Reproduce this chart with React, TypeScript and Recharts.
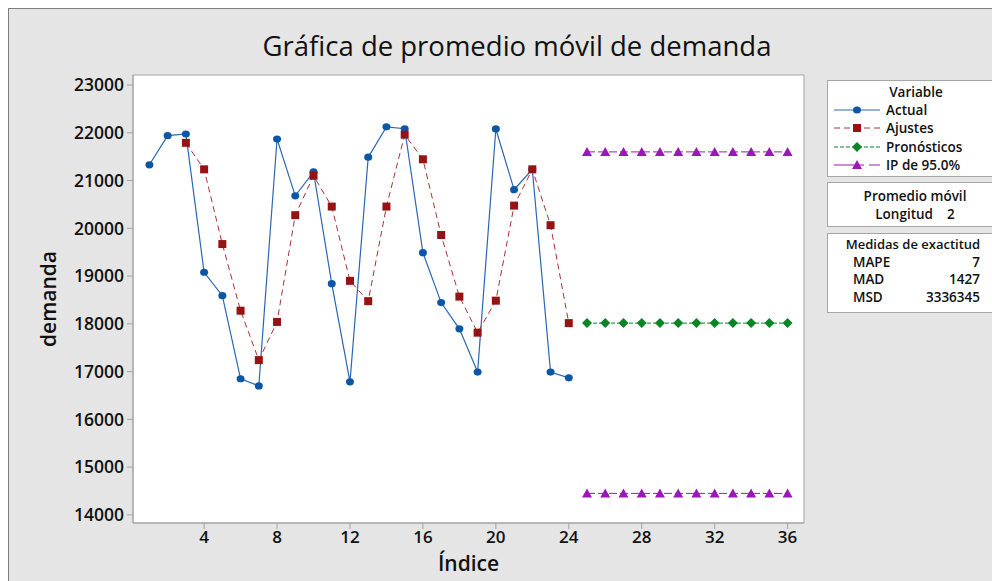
import { LineChart, Line, XAxis, YAxis, ReferenceArea, Label } from "recharts";

const indices = [1, 2, 3, 4, 5, 6, 7, 8, 9, 10, 11, 12, 13, 14, 15, 16, 17, 18, 19, 20, 21, 22, 23, 24, 25, 26, 27, 28, 29, 30, 31, 32, 33, 34, 35, 36];
const actual = [21330, 21940, 21975, 19080, 18590, 16850, 16700, 21870, 20680, 21180, 18840, 16785, 21490, 22125, 22085, 19490, 18445, 17895, 16990, 22080, 20810, 21235, 16990, 16870];
// ajustes start at index 3
const ajustes = [21790, 21235, 19670, 18275, 17240, 18040, 20275, 21100, 20455, 18900, 18475, 20455, 21960, 21445, 19860, 18570, 17815, 18485, 20475, 21235, 20065, 18015];
// pronosticos / intervals from index 25 to 36
const pronosticos = [18015, 18015, 18015, 18015, 18015, 18015, 18015, 18015, 18015, 18015, 18015, 18015];
const limSup = [21600, 21600, 21600, 21600, 21600, 21600, 21600, 21600, 21600, 21600, 21600, 21600];
const limInf = [14450, 14450, 14450, 14450, 14450, 14450, 14450, 14450, 14450, 14450, 14450, 14450];
const xTicks = [4, 8, 12, 16, 20, 24, 28, 32, 36];
const yTicks = [14000, 15000, 16000, 17000, 18000, 19000, 20000, 21000, 22000, 23000];

const data = indices.map((i) => ({
  idx: i,
  actual: i <= 24 ? actual[i - 1] : null,
  ajustes: i >= 3 && i <= 24 ? ajustes[i - 3] : null,
  pron: i >= 25 ? pronosticos[i - 25] : null,
  sup: i >= 25 ? limSup[i - 25] : null,
  inf: i >= 25 ? limInf[i - 25] : null,
}));

const BLUE = "#0b57a6";
const BLUE_LINE = "#2a67b5";
const RED = "#971313";
const RED_LINE = "#a83434";
const GREEN = "#0a8526";
const PURPLE = "#9b18b8";
const FONT = "'Open Sans', 'Noto Sans', sans-serif";

const Circle = (p: any) => (p.cy == null ? null : <ellipse key={p.key} cx={p.cx} cy={p.cy} rx={4} ry={3.6} fill={BLUE} />);
const Square = (p: any) => (p.cy == null ? null : <rect key={p.key} x={p.cx - 4} y={p.cy - 4} width={8} height={8} fill={RED} />);
const Diamond = (p: any) =>
  p.cy == null ? null : <polygon key={p.key} points={`${p.cx},${p.cy - 5} ${p.cx + 5},${p.cy} ${p.cx},${p.cy + 5} ${p.cx - 5},${p.cy}`} fill={GREEN} />;
const Tri = (p: any) =>
  p.cy == null ? null : <polygon key={p.key} points={`${p.cx},${p.cy - 5} ${p.cx + 5},${p.cy + 4} ${p.cx - 5},${p.cy + 4}`} fill={PURPLE} />;

function Sym({ kind }: { kind: string }) {
  const c = 23;
  let line = null;
  let mark = null;
  if (kind === "a") {
    line = <line x1={0} x2={46} y1={8} y2={8} stroke={BLUE_LINE} strokeWidth={1.2} />;
    mark = <ellipse cx={c} cy={8} rx={4} ry={3.6} fill={BLUE} />;
  } else if (kind === "r") {
    line = <line x1={0} x2={46} y1={8} y2={8} stroke={RED_LINE} strokeWidth={1} strokeDasharray="6 4" />;
    mark = <rect x={c - 4} y={4} width={8} height={8} fill={RED} />;
  } else if (kind === "g") {
    line = <line x1={0} x2={46} y1={8} y2={8} stroke={GREEN} strokeWidth={1} strokeDasharray="4 2" />;
    mark = <polygon points={`${c},3 ${c + 5},8 ${c},13 ${c - 5},8`} fill={GREEN} />;
  } else {
    line = <line x1={0} x2={46} y1={8} y2={8} stroke={PURPLE} strokeWidth={1} strokeDasharray="30 5" />;
    mark = <polygon points={`${c},3 ${c + 5},12 ${c - 5},12`} fill={PURPLE} />;
  }
  return (
    <svg width={46} height={16} style={{ position: "absolute", left: 6, top: 1 }}>
      {line}
      {mark}
    </svg>
  );
}

const boxStyle: any = {
  position: "absolute",
  left: 819,
  width: 176,
  background: "#fff",
  border: "1px solid #a6a6a6",
  boxSizing: "border-box",
  fontFamily: FONT,
  fontWeight: 600,
  fontSize: 13.5,
  color: "#111",
};

const legendRows = [
  { k: "a", t: "Actual" },
  { k: "r", t: "Ajustes" },
  { k: "g", t: "Pronósticos" },
  { k: "p", t: "IP de 95.0%" },
];
const medidasNames = ["MAPE", "MAD", "MSD"];
const medidasValues = ["7", "1427", "3336345"];

export default function App() {
  return (
    <div style={{ position: "fixed", left: 8, top: 8, width: 984, height: 573, background: "#e5e5e5", overflow: "hidden" }}>
      <div style={{ position: "absolute", left: 0, top: 0, width: 984, height: 1, background: "#7d7d7d" }} />
      <div style={{ position: "absolute", left: 0, top: 0, width: 1, height: 573, background: "#7d7d7d" }} />
      <div
        style={{
          position: "absolute",
          left: 0,
          width: 1018,
          top: 20,
          textAlign: "center",
          fontFamily: FONT,
          fontSize: 27.5,
          fontWeight: 500,
          color: "#111",
          lineHeight: "36px",
        }}
      >
        Gráfica de promedio móvil de demanda
      </div>
      <LineChart width={984} height={573} data={data} margin={{ top: 67, right: 188, left: 0, bottom: 28 }} style={{ position: "absolute", left: 0, top: 0 }}>
        <ReferenceArea x1={0.1} x2={36.9} y1={13830} y2={23210} fill="#fff" fillOpacity={1} stroke="#a3a3a3" strokeWidth={1} />
        <XAxis
          dataKey="idx"
          type="number"
          domain={[0.1, 36.9]}
          ticks={xTicks}
          allowDataOverflow
          height={30}
          tickSize={6}
          tickMargin={2}
          axisLine={{ stroke: "#a3a3a3" }}
          tickLine={{ stroke: "#a3a3a3" }}
          tick={{ fill: "#111", fontFamily: FONT, fontWeight: 600, fontSize: 17 }}
        >
          <Label
            content={(props: any) => {
              const vb = props.viewBox;
              return (
                <text x={vb.x + vb.width / 2} y={vb.y + 48} textAnchor="middle" fontFamily={FONT} fontSize={21} fontWeight={600} fill="#111">
                  Índice
                </text>
              );
            }}
          />
        </XAxis>
        <YAxis
          type="number"
          domain={[13830, 23210]}
          ticks={yTicks}
          allowDataOverflow
          width={125}
          tickSize={6}
          tickMargin={3}
          axisLine={{ stroke: "#a3a3a3" }}
          tickLine={{ stroke: "#a3a3a3" }}
          tick={{ fill: "#111", fontFamily: FONT, fontWeight: 600, fontSize: 17.5 }}
        >
          <Label
            content={(props: any) => {
              const vb = props.viewBox;
              const x = 40;
              const y = vb.y + vb.height / 2;
              return (
                <text x={x} y={y} transform={`rotate(-90 ${x} ${y})`} textAnchor="middle" dominantBaseline="central" fontFamily={FONT} fontSize={21} fontWeight={600} fill="#111">
                  demanda
                </text>
              );
            }}
          />
        </YAxis>
        <Line dataKey="actual" stroke={BLUE_LINE} strokeWidth={1.2} dot={Circle} activeDot={false} isAnimationActive={false} />
        <Line dataKey="ajustes" stroke={RED_LINE} strokeWidth={1} strokeDasharray="6 4" dot={Square} activeDot={false} isAnimationActive={false} />
        <Line dataKey="pron" stroke={GREEN} strokeWidth={1} strokeDasharray="4 2" dot={Diamond} activeDot={false} isAnimationActive={false} />
        <Line dataKey="sup" stroke={PURPLE} strokeWidth={1} strokeDasharray="8 3" dot={Tri} activeDot={false} isAnimationActive={false} />
        <Line dataKey="inf" stroke={PURPLE} strokeWidth={1} strokeDasharray="8 3" dot={Tri} activeDot={false} isAnimationActive={false} />
      </LineChart>

      <div style={{ ...boxStyle, top: 72, height: 97 }}>
        <div style={{ textAlign: "center", lineHeight: "18px", marginTop: 2, width: 176 }}>Variable</div>
        {legendRows.map((r) => (
          <div key={r.k} style={{ position: "relative", height: 18.3, lineHeight: "18px" }}>
            <Sym kind={r.k} />
            <span style={{ position: "absolute", left: 58 }}>{r.t}</span>
          </div>
        ))}
      </div>

      <div style={{ ...boxStyle, top: 174, height: 45 }}>
        <div style={{ textAlign: "center", lineHeight: "18px", marginTop: 4 }}>Promedio móvil</div>
        <div style={{ textAlign: "center", lineHeight: "18px", whiteSpace: "pre" }}>{"Longitud    2"}</div>
      </div>

      <div style={{ ...boxStyle, top: 225, height: 80 }}>
        <div style={{ position: "absolute", left: 0, width: 170, top: 1, textAlign: "center", lineHeight: "19px", fontSize: 13, whiteSpace: "nowrap" }}>
          Medidas de exactitud
        </div>
        <div style={{ height: 20 }} />
        {medidasNames.map((n, i) => (
          <div key={n} style={{ position: "relative", height: 17.3, lineHeight: "17px" }}>
            <span style={{ position: "absolute", left: 25 }}>{n}</span>
            <span style={{ position: "absolute", right: 22 }}>{medidasValues[i]}</span>
          </div>
        ))}
      </div>
    </div>
  );
}
